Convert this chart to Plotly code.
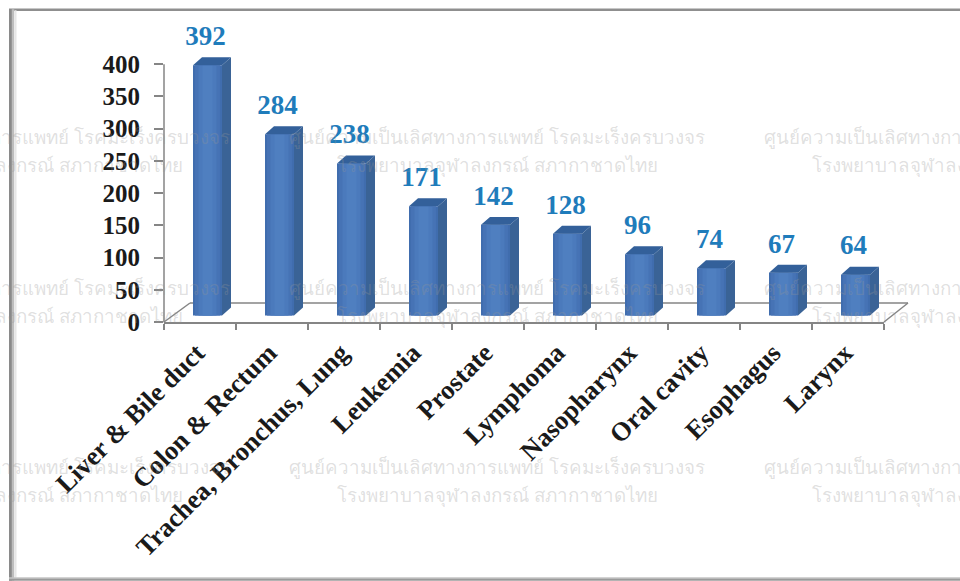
import plotly.graph_objects as go

categories = ["Liver & Bile duct", "Colon & Rectum", "Trachea, Bronchus, Lung", "Leukemia", "Prostate",
              "Lymphoma", "Nasopharynx", "Oral cavity", "Esophagus", "Larynx"]
values = [392, 284, 238, 171, 142, 128, 96, 74, 67, 64]
y_ticks = [0, 50, 100, 150, 200, 250, 300, 350, 400]

W, H = 960, 581
L, R, B = 164, 884, 322
UX = 720 / 10          # px per category
UY = (B - 64) / 400    # px per value unit
Y_MAX = 470            # head room so the tallest label stays inside the axis range
T = B - Y_MAX * UY
SERIF = "Liberation Serif"

def px_x(p): return p / UX
def px_y(p): return p / UY
def paper_x(p): return (p - L) / (R - L)
def paper_y(p): return (B - p) / (B - T)

xs = list(range(len(values)))
off = px_x(7.5)
bw = px_x(29)
base = px_y(6.5)
dx, dy = px_x(9), px_y(8)
tops = [v * 0.99 + base for v in values]

fig = go.Figure()

# front faces, layered for the soft horizontal shading
for frac, col in [(1.0, "#406dae"), (0.86, "#4673b5"), (0.62, "#4b7abc"), (0.34, "#4f7fc0")]:
    fig.add_trace(go.Bar(x=[i + off for i in xs], y=[t - base for t in tops], base=base,
                         width=bw * frac, marker=dict(color=col, line_width=0),
                         cliponaxis=False, hoverinfo="skip", showlegend=False))

side_x, side_y, top_x, top_y = [], [], [], []
for i, t in zip(xs, tops):
    xl, xr = i + off - bw / 2, i + off + bw / 2
    side_x += [xr, xr + dx, xr + dx, xr, xr, None]
    side_y += [base, base + dy, t + dy, t, base, None]
    top_x += [xl, xl + dx, xr + dx, xr, xl, None]
    top_y += [t, t + dy, t + dy, t, t, None]

fig.add_trace(go.Scatter(x=side_x, y=side_y, mode="lines", fill="toself", fillcolor="#3a6396",
                         line=dict(width=0, color="#3a6396"), cliponaxis=False, hoverinfo="skip", showlegend=False))
fig.add_trace(go.Scatter(x=top_x, y=top_y, mode="lines", fill="toself", fillcolor="#33609a",
                         line=dict(width=0, color="#33609a"), cliponaxis=False, hoverinfo="skip", showlegend=False))

fig.add_trace(go.Scatter(x=[i + px_x(5.5) for i in xs], y=[t + px_y(27) for t in tops],
                         mode="text", text=[str(v) for v in values], textposition="middle center",
                         textfont=dict(family=SERIF, size=27, color="#1f7cbb", weight="bold"),
                         cliponaxis=False, hoverinfo="skip", showlegend=False))

axis_col = "#858585"
shapes = []
def seg(x0, y0, x1, y1, col=axis_col, w=1.5, layer="below"):
    shapes.append(dict(type="line", xref="paper", yref="paper", x0=paper_x(x0), y0=paper_y(y0),
                       x1=paper_x(x1), y1=paper_y(y1), line=dict(color=col, width=w), layer=layer))

# value axis line and floor outline
seg(164, 64, 164, 322)
seg(164, 322, 190, 303)
seg(190, 303, 908, 303)
seg(908, 303, 884, 322)

# picture frame
seg(9, 9.5, 960, 9.5, "#8f8f8f", 2.5)
seg(10.5, 9, 10.5, 581, "#8a8a8a", 3)
seg(13, 9, 13, 581, "#bdbdbd", 2.5)
seg(15.5, 10, 15.5, 578, "#e6e6e6", 2)
seg(9, 578.5, 960, 578.5, "#c4c4c4", 2)
seg(9, 580, 960, 580, "#9a9a9a", 2)

# watermark
line1 = "ศูนย์ความเป็นเลิศทางการแพทย์ โรคมะเร็งครบวงจร"
line2 = "โรงพยาบาลจุฬาลงกรณ์ สภากาชาดไทย"
annotations = []
for cx in (22, 497, 972):
    for y1, y2 in ((137, 165), (288, 316), (467, 495)):
        for txt, yy in ((line1, y1), (line2, y2)):
            annotations.append(dict(text=txt, xref="paper", yref="paper", x=paper_x(cx), y=paper_y(yy),
                                    xanchor="center", yanchor="middle", showarrow=False,
                                    font=dict(family="Noto Sans", size=18.8, color="rgba(150,150,150,0.3)")))

fig.update_layout(
    width=W, height=H, margin=dict(l=L, r=W - R, t=T, b=H - B, pad=0),
    paper_bgcolor="white", plot_bgcolor="rgba(0,0,0,0)", barmode="overlay",
    showlegend=False, shapes=shapes, annotations=annotations,
    xaxis=dict(range=[-0.5, 9.5], tickmode="array", tickvals=xs, ticktext=categories, tickangle=-45,
               ticks="", showgrid=False, zeroline=False, showline=True, linecolor=axis_col, linewidth=1.5,
               ticklabelstandoff=3, ticklabelshift=-3,
               tickfont=dict(family=SERIF, size=26.5, color="#1a1a1a", weight="bold"),
               minor=dict(tickmode="array", tickvals=[i - 0.5 for i in range(11)], ticks="outside",
                          ticklen=6, tickwidth=1.5, tickcolor=axis_col, showgrid=False)),
    yaxis=dict(range=[0, Y_MAX], tickmode="array", tickvals=y_ticks, ticks="outside", ticklen=9, tickwidth=1.5,
               tickcolor=axis_col, showgrid=False, zeroline=False, showline=False,
               ticklabelstandoff=9,
               tickfont=dict(family=SERIF, size=25, color="#1a1a1a", weight="bold")),
)
fig.write_html("out.html", config={"displayModeBar": False},
               post_script="document.body.style.margin='0';document.body.style.overflow='hidden';")
